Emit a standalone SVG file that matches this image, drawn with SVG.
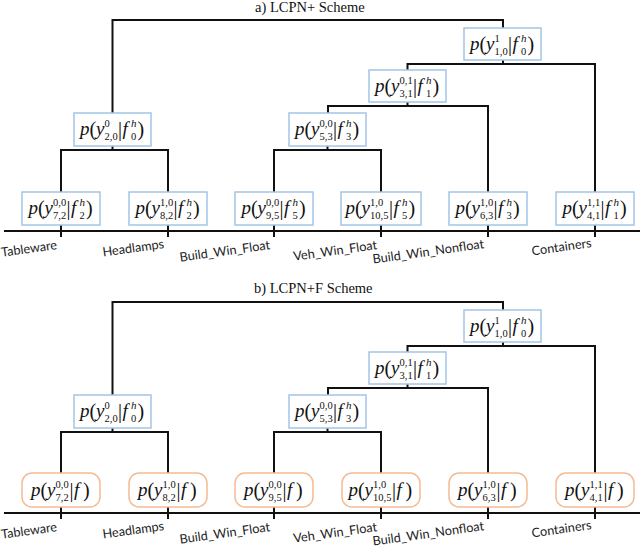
<svg xmlns="http://www.w3.org/2000/svg" width="640" height="550" viewBox="0 0 640 550">
<style>
.ln{fill:none;stroke:#111;stroke-width:2}
.bb{fill:#fff;stroke:#A3C5E8;stroke-width:1.5}
.ob{fill:#fff;stroke:#F5BB92;stroke-width:1.5}
.m{font-family:"Liberation Serif",serif;font-style:italic;font-size:19px;fill:#111}
.r{font-family:"Liberation Serif",serif;font-size:20px;fill:#111}
.s{font-family:"Liberation Serif",serif;font-size:10.5px;fill:#111}
.si{font-family:"Liberation Serif",serif;font-style:italic;font-size:11px;fill:#111}
.lb{font-family:Lato,"Liberation Sans",sans-serif;font-size:12.7px;fill:#222;text-anchor:end}
.tt{font-family:"Liberation Serif",serif;font-size:14.5px;fill:#111}
</style>
<rect width="640" height="550" fill="#fff"/>

<!-- Panel a -->
<g id="panel-a">
<text class="tt" x="255" y="11.5">a) LCPN+ Scheme</text>
<g id="a-connectors">
<path class="ln" d="M112.5,113 V20 H503 V28"/>
<path class="ln" d="M503,60 V64"/>
<path class="ln" d="M407.5,70 V64 H595 V237"/>
<path class="ln" d="M407.5,102 V106"/>
<path class="ln" d="M328,113 V106 H488 V237"/>
<path class="ln" d="M112.5,146 V150"/>
<path class="ln" d="M61,237 V150 H168 V237"/>
<path class="ln" d="M327.5,146 V150"/>
<path class="ln" d="M274,237 V150 H381 V237"/>
<path class="ln" d="M4,231 H640"/>
</g>
<g id="a-n1" transform="translate(464,28)"><rect class="bb" width="77" height="32"/><text class="m" x="6" y="22">p</text><text class="r" x="15.5" y="23">(</text><text class="m" x="22" y="22">y</text><text class="s" x="30.5" y="14">1</text><text class="s" x="30.5" y="27">1,0</text><text class="r" x="44" y="23">|</text><text class="m" x="48.5" y="22">f</text><text class="si" x="57" y="14">h</text><text class="s" x="57" y="27">0</text><text class="r" x="63.5" y="23">)</text></g>
<g id="a-n3" transform="translate(369,70)"><rect class="bb" width="77" height="32"/><text class="m" x="6" y="22">p</text><text class="r" x="15.5" y="23">(</text><text class="m" x="22" y="22">y</text><text class="s" x="30.5" y="14">0,1</text><text class="s" x="30.5" y="27">3,1</text><text class="r" x="44" y="23">|</text><text class="m" x="48.5" y="22">f</text><text class="si" x="57" y="14">h</text><text class="s" x="57" y="27">1</text><text class="r" x="63.5" y="23">)</text></g>
<g id="a-n2" transform="translate(74,113)"><rect class="bb" width="77" height="33"/><text class="m" x="6" y="22">p</text><text class="r" x="15.5" y="23">(</text><text class="m" x="22" y="22">y</text><text class="s" x="30.5" y="14">0</text><text class="s" x="30.5" y="27">2,0</text><text class="r" x="44" y="23">|</text><text class="m" x="48.5" y="22">f</text><text class="si" x="57" y="14">h</text><text class="s" x="57" y="27">0</text><text class="r" x="63.5" y="23">)</text></g>
<g id="a-n5" transform="translate(289,113)"><rect class="bb" width="77" height="33"/><text class="m" x="6" y="22">p</text><text class="r" x="15.5" y="23">(</text><text class="m" x="22" y="22">y</text><text class="s" x="30.5" y="14">0,0</text><text class="s" x="30.5" y="27">5,3</text><text class="r" x="44" y="23">|</text><text class="m" x="48.5" y="22">f</text><text class="si" x="57" y="14">h</text><text class="s" x="57" y="27">3</text><text class="r" x="63.5" y="23">)</text></g>
<g id="a-n7" transform="translate(22,192)"><rect class="bb" width="78" height="33"/><text class="m" x="6.5" y="22">p</text><text class="r" x="16" y="23">(</text><text class="m" x="22.5" y="22">y</text><text class="s" x="31" y="14">0,0</text><text class="s" x="31" y="27">7,2</text><text class="r" x="44.5" y="23">|</text><text class="m" x="49" y="22">f</text><text class="si" x="57.5" y="14">h</text><text class="s" x="57.5" y="27">2</text><text class="r" x="64" y="23">)</text></g>
<g id="a-n8" transform="translate(129,192)"><rect class="bb" width="78" height="33"/><text class="m" x="6.5" y="22">p</text><text class="r" x="16" y="23">(</text><text class="m" x="22.5" y="22">y</text><text class="s" x="31" y="14">1,0</text><text class="s" x="31" y="27">8,2</text><text class="r" x="44.5" y="23">|</text><text class="m" x="49" y="22">f</text><text class="si" x="57.5" y="14">h</text><text class="s" x="57.5" y="27">2</text><text class="r" x="64" y="23">)</text></g>
<g id="a-n9" transform="translate(235,192)"><rect class="bb" width="78" height="33"/><text class="m" x="6.5" y="22">p</text><text class="r" x="16" y="23">(</text><text class="m" x="22.5" y="22">y</text><text class="s" x="31" y="14">0,0</text><text class="s" x="31" y="27">9,5</text><text class="r" x="44.5" y="23">|</text><text class="m" x="49" y="22">f</text><text class="si" x="57.5" y="14">h</text><text class="s" x="57.5" y="27">5</text><text class="r" x="64" y="23">)</text></g>
<g id="a-n10" transform="translate(341,192)"><rect class="bb" width="80" height="33"/><text class="m" x="4.5" y="22">p</text><text class="r" x="14" y="23">(</text><text class="m" x="20.5" y="22">y</text><text class="s" x="29" y="14">1,0</text><text class="s" x="29" y="27">10,5</text><text class="r" x="48" y="23">|</text><text class="m" x="52.5" y="22">f</text><text class="si" x="61" y="14">h</text><text class="s" x="61" y="27">5</text><text class="r" x="67.5" y="23">)</text></g>
<g id="a-n6" transform="translate(449,192)"><rect class="bb" width="78" height="33"/><text class="m" x="6.5" y="22">p</text><text class="r" x="16" y="23">(</text><text class="m" x="22.5" y="22">y</text><text class="s" x="31" y="14">1,0</text><text class="s" x="31" y="27">6,3</text><text class="r" x="44.5" y="23">|</text><text class="m" x="49" y="22">f</text><text class="si" x="57.5" y="14">h</text><text class="s" x="57.5" y="27">3</text><text class="r" x="64" y="23">)</text></g>
<g id="a-n4" transform="translate(556,192)"><rect class="bb" width="78" height="33"/><text class="m" x="6.5" y="22">p</text><text class="r" x="16" y="23">(</text><text class="m" x="22.5" y="22">y</text><text class="s" x="31" y="14">1,1</text><text class="s" x="31" y="27">4,1</text><text class="r" x="44.5" y="23">|</text><text class="m" x="49" y="22">f</text><text class="si" x="57.5" y="14">h</text><text class="s" x="57.5" y="27">1</text><text class="r" x="64" y="23">)</text></g>
<g id="a-labels">
<text class="lb" transform="translate(57.5,249) rotate(-8)">Tableware</text>
<text class="lb" transform="translate(164.5,248) rotate(-8)">Headlamps</text>
<text class="lb" transform="translate(270.5,249) rotate(-8)">Build_Win_Float</text>
<text class="lb" transform="translate(377.5,249) rotate(-8)">Veh_Win_Float</text>
<text class="lb" transform="translate(484.5,248) rotate(-8)">Build_Win_Nonfloat</text>
<text class="lb" transform="translate(592,247) rotate(-8)">Containers</text>
</g>
</g>

<!-- Panel b -->
<g id="panel-b" transform="translate(0,282)">
<text class="tt" x="254" y="11">b) LCPN+F Scheme</text>
<g id="b-connectors">
<path class="ln" d="M112.5,113 V20 H503 V28"/>
<path class="ln" d="M503,60 V64"/>
<path class="ln" d="M407.5,70 V64 H595 V237"/>
<path class="ln" d="M407.5,102 V106"/>
<path class="ln" d="M328,113 V106 H488 V237"/>
<path class="ln" d="M112.5,146 V150"/>
<path class="ln" d="M61,237 V150 H168 V237"/>
<path class="ln" d="M327.5,146 V150"/>
<path class="ln" d="M274,237 V150 H381 V237"/>
<path class="ln" d="M4,231 H640"/>
</g>
<g id="b-n1" transform="translate(464,28)"><rect class="bb" width="77" height="32"/><text class="m" x="6" y="22">p</text><text class="r" x="15.5" y="23">(</text><text class="m" x="22" y="22">y</text><text class="s" x="30.5" y="14">1</text><text class="s" x="30.5" y="27">1,0</text><text class="r" x="44" y="23">|</text><text class="m" x="48.5" y="22">f</text><text class="si" x="57" y="14">h</text><text class="s" x="57" y="27">0</text><text class="r" x="63.5" y="23">)</text></g>
<g id="b-n3" transform="translate(369,70)"><rect class="bb" width="77" height="32"/><text class="m" x="6" y="22">p</text><text class="r" x="15.5" y="23">(</text><text class="m" x="22" y="22">y</text><text class="s" x="30.5" y="14">0,1</text><text class="s" x="30.5" y="27">3,1</text><text class="r" x="44" y="23">|</text><text class="m" x="48.5" y="22">f</text><text class="si" x="57" y="14">h</text><text class="s" x="57" y="27">1</text><text class="r" x="63.5" y="23">)</text></g>
<g id="b-n2" transform="translate(74,113)"><rect class="bb" width="77" height="33"/><text class="m" x="6" y="22">p</text><text class="r" x="15.5" y="23">(</text><text class="m" x="22" y="22">y</text><text class="s" x="30.5" y="14">0</text><text class="s" x="30.5" y="27">2,0</text><text class="r" x="44" y="23">|</text><text class="m" x="48.5" y="22">f</text><text class="si" x="57" y="14">h</text><text class="s" x="57" y="27">0</text><text class="r" x="63.5" y="23">)</text></g>
<g id="b-n5" transform="translate(289,113)"><rect class="bb" width="77" height="33"/><text class="m" x="6" y="22">p</text><text class="r" x="15.5" y="23">(</text><text class="m" x="22" y="22">y</text><text class="s" x="30.5" y="14">0,0</text><text class="s" x="30.5" y="27">5,3</text><text class="r" x="44" y="23">|</text><text class="m" x="48.5" y="22">f</text><text class="si" x="57" y="14">h</text><text class="s" x="57" y="27">3</text><text class="r" x="63.5" y="23">)</text></g>
<g id="b-n7" transform="translate(22,191)"><rect class="ob" width="78" height="34" rx="10"/><text class="m" x="9" y="23">p</text><text class="r" x="18.5" y="24">(</text><text class="m" x="25" y="23">y</text><text class="s" x="33.5" y="15">0,0</text><text class="s" x="33.5" y="28">7,2</text><text class="r" x="47.5" y="24">|</text><text class="m" x="52" y="23">f</text><text class="r" x="61" y="24">)</text></g>
<g id="b-n8" transform="translate(129,191)"><rect class="ob" width="78" height="34" rx="10"/><text class="m" x="9" y="23">p</text><text class="r" x="18.5" y="24">(</text><text class="m" x="25" y="23">y</text><text class="s" x="33.5" y="15">1,0</text><text class="s" x="33.5" y="28">8,2</text><text class="r" x="47.5" y="24">|</text><text class="m" x="52" y="23">f</text><text class="r" x="61" y="24">)</text></g>
<g id="b-n9" transform="translate(235,191)"><rect class="ob" width="78" height="34" rx="10"/><text class="m" x="9" y="23">p</text><text class="r" x="18.5" y="24">(</text><text class="m" x="25" y="23">y</text><text class="s" x="33.5" y="15">0,0</text><text class="s" x="33.5" y="28">9,5</text><text class="r" x="47.5" y="24">|</text><text class="m" x="52" y="23">f</text><text class="r" x="61" y="24">)</text></g>
<g id="b-n10" transform="translate(342,191)"><rect class="ob" width="78" height="34" rx="10"/><text class="m" x="6.5" y="23">p</text><text class="r" x="16" y="24">(</text><text class="m" x="22.5" y="23">y</text><text class="s" x="31" y="15">1,0</text><text class="s" x="31" y="28">10,5</text><text class="r" x="50" y="24">|</text><text class="m" x="54.5" y="23">f</text><text class="r" x="63.5" y="24">)</text></g>
<g id="b-n6" transform="translate(449,191)"><rect class="ob" width="78" height="34" rx="10"/><text class="m" x="9" y="23">p</text><text class="r" x="18.5" y="24">(</text><text class="m" x="25" y="23">y</text><text class="s" x="33.5" y="15">1,0</text><text class="s" x="33.5" y="28">6,3</text><text class="r" x="47.5" y="24">|</text><text class="m" x="52" y="23">f</text><text class="r" x="61" y="24">)</text></g>
<g id="b-n4" transform="translate(556,191)"><rect class="ob" width="78" height="34" rx="10"/><text class="m" x="9" y="23">p</text><text class="r" x="18.5" y="24">(</text><text class="m" x="25" y="23">y</text><text class="s" x="33.5" y="15">1,1</text><text class="s" x="33.5" y="28">4,1</text><text class="r" x="47.5" y="24">|</text><text class="m" x="52" y="23">f</text><text class="r" x="61" y="24">)</text></g>
<g id="b-labels">
<text class="lb" transform="translate(57.5,249) rotate(-8)">Tableware</text>
<text class="lb" transform="translate(164.5,248) rotate(-8)">Headlamps</text>
<text class="lb" transform="translate(270.5,249) rotate(-8)">Build_Win_Float</text>
<text class="lb" transform="translate(377.5,249) rotate(-8)">Veh_Win_Float</text>
<text class="lb" transform="translate(484.5,248) rotate(-8)">Build_Win_Nonfloat</text>
<text class="lb" transform="translate(592,247) rotate(-8)">Containers</text>
</g>
</g>
</svg>
